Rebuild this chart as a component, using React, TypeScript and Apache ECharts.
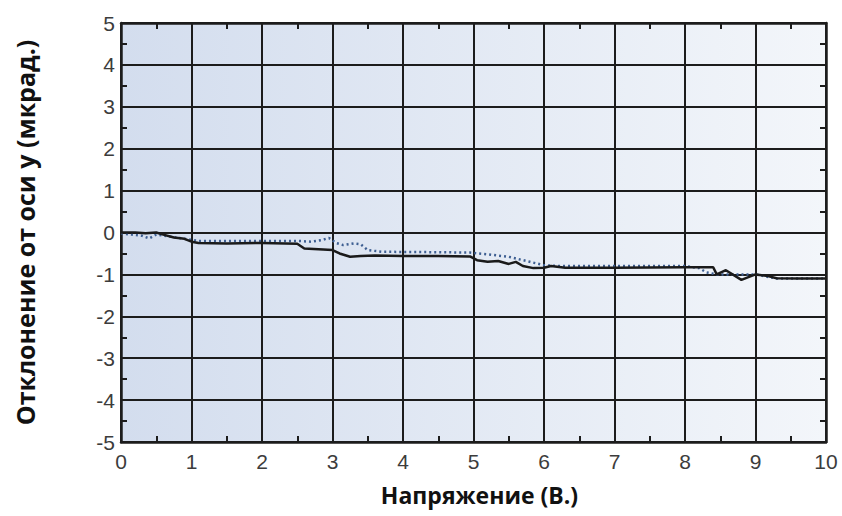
import React, { useEffect, useRef } from "react";
import * as echarts from "echarts";

const xTicks = [0, 1, 2, 3, 4, 5, 6, 7, 8, 9, 10];
const yTicks = [-5, -4, -3, -2, -1, 0, 1, 2, 3, 4, 5];

const solidX = [0, 0.2, 0.35, 0.5, 0.6, 0.75, 0.9, 1.0, 1.1, 1.5, 2.0, 2.5, 2.6, 2.8, 3.0, 3.1, 3.25, 3.4, 3.6, 4.0, 4.5, 4.95, 5.05, 5.2, 5.35, 5.5, 5.6, 5.7, 5.85, 6.0, 6.1, 6.3, 7.0, 8.0, 8.4, 8.45, 8.58, 8.8, 9.0, 9.15, 9.3, 9.6, 10];
const solidY = [0, 0.0, -0.02, 0.0, -0.05, -0.12, -0.15, -0.22, -0.25, -0.26, -0.25, -0.27, -0.38, -0.4, -0.42, -0.5, -0.58, -0.56, -0.55, -0.56, -0.56, -0.57, -0.66, -0.7, -0.68, -0.75, -0.7, -0.8, -0.85, -0.84, -0.8, -0.84, -0.84, -0.83, -0.83, -1.0, -0.9, -1.13, -1.0, -1.03, -1.09, -1.1, -1.1];

const dotX = [0, 0.15, 0.3, 0.4, 0.5, 0.7, 0.9, 1.1, 1.5, 2.0, 2.5, 2.7, 2.85, 2.95, 3.05, 3.15, 3.3, 3.4, 3.5, 3.7, 4.5, 4.95, 5.2, 5.5, 5.8, 6.0, 6.2, 7, 8, 8.2, 8.3, 8.45, 8.75, 9.0, 9.3, 10];
const dotY = [-0.02, -0.05, -0.08, -0.14, -0.05, -0.1, -0.15, -0.2, -0.2, -0.2, -0.2, -0.22, -0.18, -0.13, -0.25, -0.3, -0.26, -0.28, -0.42, -0.46, -0.47, -0.48, -0.52, -0.58, -0.7, -0.78, -0.8, -0.8, -0.8, -0.85, -0.95, -1.0, -1.0, -1.0, -1.1, -1.1];

const xName = "Напряжение (В.)";
const yName = "Отклонение от оси у (мкрад.)";

export default function App() {
  const ref = useRef<HTMLDivElement>(null);
  useEffect(() => {
    document.body.style.margin = "0";
    const chart = echarts.init(ref.current!, null, { renderer: "svg" });
    const lineCol = "#1c1c1c";
    const labelStyle = { color: "#3c3c3c", fontSize: 21, fontFamily: "Liberation Sans, Arial, sans-serif" };
    const xRange = { type: "value" as const, min: xTicks[0], max: xTicks[xTicks.length - 1] };
    const yRange = { type: "value" as const, min: yTicks[0], max: yTicks[yTicks.length - 1] };
    const gridBox = { left: 121, right: 16, top: 23, bottom: 74 };
    const tickAxis = (pos: string, showLine: boolean) => ({
      gridIndex: 1,
      position: pos,
      interval: 0.5,
      axisLine: { show: showLine, onZero: false, lineStyle: { color: lineCol, width: 2.5 } },
      axisTick: { show: true, inside: true, length: 6, lineStyle: { color: lineCol, width: 2 } },
      axisLabel: { show: false },
      splitLine: { show: false },
    });
    chart.setOption({
      animation: false,
      grid: [
        {
          ...gridBox,
          show: true,
          borderWidth: 0,
          backgroundColor: new echarts.graphic.LinearGradient(0, 0, 1, 0, [
            { offset: 0, color: "#d3ddee" },
            { offset: 1, color: "#f3f6fa" },
          ]),
        },
        { ...gridBox, show: false },
      ],
      xAxis: [
        {
          ...xRange,
          gridIndex: 0,
          position: "bottom",
          interval: 1,
          axisLine: { show: true, onZero: false, lineStyle: { color: lineCol, width: 2.5 } },
          axisTick: { show: false },
          splitLine: { show: true, lineStyle: { color: lineCol, width: 2 } },
          axisLabel: { ...labelStyle, margin: 9, formatter: (v: number) => String(v) },
          name: xName,
          nameLocation: "middle",
          nameGap: 41,
          nameTextStyle: { color: "#111", fontSize: 23, fontWeight: "bold", fontFamily: "Open Sans, sans-serif", padding: [0, 0, 0, 12] },
        },
        { ...xRange, ...tickAxis("bottom", false) },
        { ...xRange, ...tickAxis("top", true) },
      ],
      yAxis: [
        {
          ...yRange,
          gridIndex: 0,
          position: "left",
          interval: 1,
          axisLine: { show: true, onZero: false, lineStyle: { color: lineCol, width: 2.5 } },
          axisTick: { show: false },
          splitLine: { show: true, lineStyle: { color: lineCol, width: 2 } },
          axisLabel: { ...labelStyle, margin: 6, formatter: (v: number) => String(v) },
          name: yName,
          nameLocation: "middle",
          nameGap: 84,
          nameTextStyle: { color: "#111", fontSize: 25, fontWeight: "bold", fontFamily: "Open Sans, sans-serif" },
        },
        { ...yRange, ...tickAxis("left", false) },
        { ...yRange, ...tickAxis("right", true) },
      ],
      series: [
        {
          type: "line",
          xAxisIndex: 0,
          yAxisIndex: 0,
          data: dotX.map((x, i) => [x, dotY[i]]),
          showSymbol: false,
          symbol: "none",
          lineStyle: { color: "#3e5f92", width: 2.5, type: [2, 3] },
          z: 3,
        },
        {
          type: "line",
          xAxisIndex: 0,
          yAxisIndex: 0,
          data: solidX.map((x, i) => [x, solidY[i]]),
          showSymbol: false,
          symbol: "none",
          lineStyle: { color: "#1a1a1a", width: 2.5 },
          z: 4,
        },
      ],
    });
    return () => chart.dispose();
  }, []);
  return <div ref={ref} style={{ width: 842, height: 516 }} />;
}
